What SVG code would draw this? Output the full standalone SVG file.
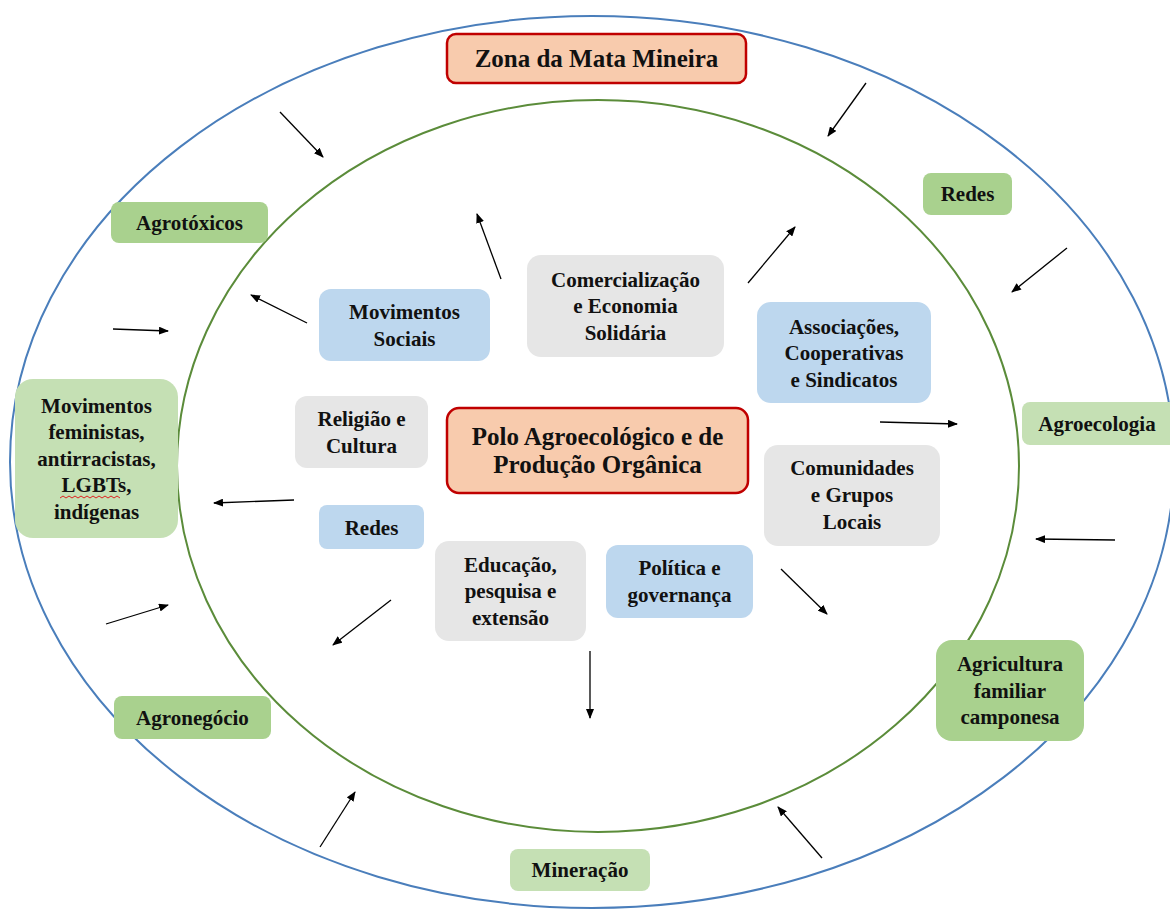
<svg xmlns="http://www.w3.org/2000/svg" width="1170" height="911" viewBox="0 0 1170 911">
<defs>
<marker id="ah" viewBox="0 0 10 8" refX="9" refY="4" markerWidth="10" markerHeight="8" markerUnits="userSpaceOnUse" orient="auto">
<path d="M0,0 L10,4 L0,8 z" fill="#000"/>
</marker>
<style>
text{font-family:"Liberation Serif","Times New Roman",serif;font-weight:bold;fill:#111;text-anchor:middle;font-size:21px}
.big{font-size:25px}
.g1{fill:#A9D18E}
.g2{fill:#C5E0B4}
.bl{fill:#BDD7EE}
.gr{fill:#E6E6E6}
.pk{fill:#F8CBAD;stroke:#C00000;stroke-width:2.5}
.ar line{stroke:#000;stroke-width:1.3;marker-end:url(#ah)}
</style>
</defs>
<rect width="1170" height="911" fill="#fff"/>
<g id="rings" fill="none" stroke-width="2">
<ellipse cx="592" cy="462" rx="582" ry="446" stroke="#4A7EBB"/>
<ellipse cx="598" cy="466" rx="421" ry="366" stroke="#5B8C3A"/>
</g>
<g id="connectors" class="ar">
<line x1="280" y1="112" x2="323" y2="157"/>
<line x1="866" y1="83" x2="828" y2="136"/>
<line x1="501" y1="279" x2="477" y2="214"/>
<line x1="307" y1="323" x2="251" y2="295"/>
<line x1="113" y1="329" x2="168" y2="331"/>
<line x1="294" y1="500" x2="214" y2="503"/>
<line x1="748" y1="283" x2="795" y2="227"/>
<line x1="1067" y1="248" x2="1012" y2="292"/>
<line x1="880" y1="422" x2="957" y2="424"/>
<line x1="1115" y1="540" x2="1036" y2="539"/>
<line x1="781" y1="569" x2="827" y2="614"/>
<line x1="590" y1="651" x2="590" y2="718"/>
<line x1="391" y1="600" x2="333" y2="645"/>
<line x1="106" y1="624" x2="168" y2="605"/>
<line x1="320" y1="847" x2="355" y2="792"/>
<line x1="822" y1="858" x2="778" y2="807"/>
</g>
<g id="zona">
<rect class="pk" x="447" y="34" width="299" height="49" rx="9"/>
<text class="big" x="596.5" y="67">Zona da Mata Mineira</text>
</g>
<g id="polo">
<rect class="pk" x="447" y="408" width="301" height="85" rx="12"/>
<text class="big" x="597.5" y="445">Polo Agroecológico e de</text>
<text class="big" x="597.5" y="473">Produção Orgânica</text>
</g>
<g id="agrotoxicos">
<rect class="g1" x="111" y="202" width="157" height="41" rx="8"/>
<text x="189.5" y="230">Agrotóxicos</text>
</g>
<g id="redes-ext">
<rect class="g1" x="923" y="173" width="89" height="42" rx="8"/>
<text x="967.5" y="201">Redes</text>
</g>
<g id="agroecologia">
<rect class="g2" x="1022" y="402" width="160" height="43" rx="8"/>
<text x="1097" y="431">Agroecologia</text>
</g>
<g id="movimentos-feministas">
<rect class="g2" x="15" y="379" width="163" height="159" rx="18"/>
<text x="96.5" y="412.5">Movimentos</text>
<text x="96.5" y="439">feministas,</text>
<text x="96.5" y="465.5">antirracistas,</text>
<text x="96.5" y="492">LGBTs,</text>
<text x="96.5" y="518.5">indígenas</text>
<path d="M60,498 l3,-2 l3,2 l3,-2 l3,2 l3,-2 l3,2 l3,-2 l3,2 l3,-2 l3,2 l3,-2 l3,2 l3,-2 l3,2 l3,-2 l3,2 l3,-2 l3,2 l3,-2 l3,2" fill="none" stroke="#E02020" stroke-width="1"/>
</g>
<g id="agricultura">
<rect class="g1" x="936" y="640" width="148" height="101" rx="16"/>
<text x="1010" y="671">Agricultura</text>
<text x="1010" y="697.5">familiar</text>
<text x="1010" y="724">camponesa</text>
</g>
<g id="agronegocio">
<rect class="g1" x="114" y="696" width="157" height="43" rx="8"/>
<text x="192.5" y="725">Agronegócio</text>
</g>
<g id="mineracao">
<rect class="g2" x="510" y="849" width="140" height="42" rx="8"/>
<text x="580" y="877">Mineração</text>
</g>
<g id="movimentos-sociais">
<rect class="bl" x="319" y="289" width="171" height="72" rx="12"/>
<text x="404.5" y="319">Movimentos</text>
<text x="404.5" y="345.5">Sociais</text>
</g>
<g id="comercializacao">
<rect class="gr" x="527" y="255" width="197" height="102" rx="14"/>
<text x="625.5" y="286.5">Comercialização</text>
<text x="625.5" y="313">e Economia</text>
<text x="625.5" y="339.5">Solidária</text>
</g>
<g id="associacoes">
<rect class="bl" x="757" y="302" width="174" height="101" rx="14"/>
<text x="844" y="333.5">Associações,</text>
<text x="844" y="360">Cooperativas</text>
<text x="844" y="386.5">e Sindicatos</text>
</g>
<g id="religiao">
<rect class="gr" x="295" y="396" width="133" height="72" rx="12"/>
<text x="361.5" y="426">Religião e</text>
<text x="361.5" y="452.5">Cultura</text>
</g>
<g id="comunidades">
<rect class="gr" x="764" y="445" width="176" height="101" rx="14"/>
<text x="852" y="475">Comunidades</text>
<text x="852" y="502">e Grupos</text>
<text x="852" y="528.5">Locais</text>
</g>
<g id="redes-int">
<rect class="bl" x="319" y="505" width="105" height="44" rx="8"/>
<text x="371.5" y="534.5">Redes</text>
</g>
<g id="educacao">
<rect class="gr" x="435" y="541" width="151" height="100" rx="14"/>
<text x="510.5" y="571.5">Educação,</text>
<text x="510.5" y="598">pesquisa e</text>
<text x="510.5" y="624.5">extensão</text>
</g>
<g id="politica">
<rect class="bl" x="606" y="545" width="147" height="73" rx="12"/>
<text x="679.5" y="575">Política e</text>
<text x="679.5" y="601.5">governança</text>
</g>
</svg>
